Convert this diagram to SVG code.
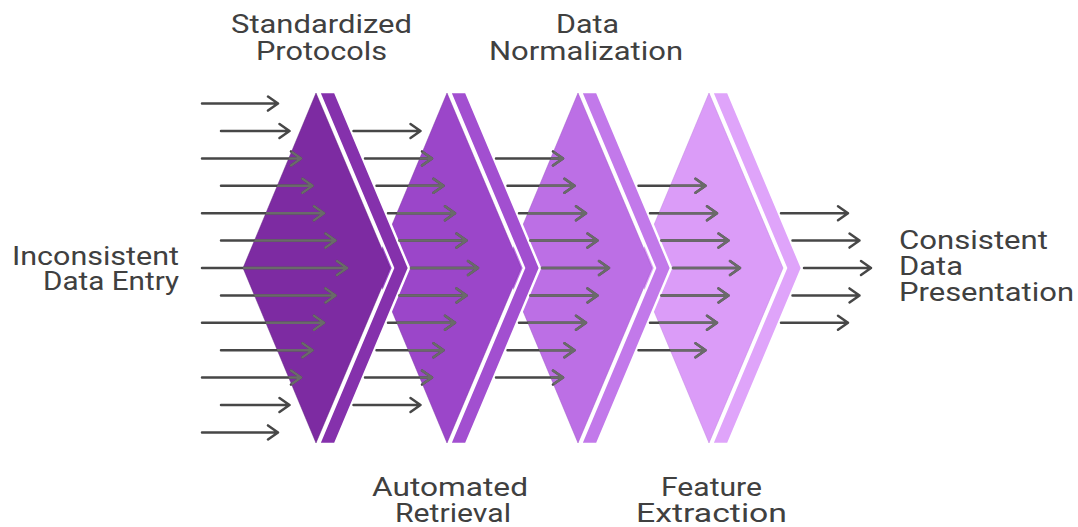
<svg xmlns="http://www.w3.org/2000/svg" xmlns:xlink="http://www.w3.org/1999/xlink" width="1078" height="527" viewBox="0 0 1078 527">
  <style>
    .label { font-family: Roboto, "Liberation Sans", Arial, sans-serif; font-size: 25px; fill: #404040; }
    .band { stroke: #ffffff; stroke-width: 2.5; stroke-linejoin: miter; }
    .main { stroke-width: 1; stroke-opacity: 0.45; }
    .s1 .main { fill: #7d2ba2; stroke: #5e1c7c; }
    .s1 .band { fill: #8531ac; }
    .s2 .main { fill: #9b46c9; stroke: #7a2ea4; }
    .s2 .band { fill: #a24fd0; }
    .s3 .main { fill: #bc6fe5; stroke: #9c52c6; }
    .s3 .band { fill: #c279ea; }
    .s4 .main { fill: #db9cf8; stroke: #bf7ee0; }
    .s4 .band { fill: #dfa4fa; }
  </style>
  <defs>
    <!-- area covered by the four stage bodies; arrows show lighter there -->
    <clipPath id="stageBodies">
      <polygon points="316,93 390,268 316,443 243,268"/>
      <polygon points="447,93 521,268 447,443 374,268"/>
      <polygon points="578,93 652,268 578,443 505,268"/>
      <polygon points="709,93 783,268 709,443 636,268"/>
    </clipPath>
  </defs>

  <rect width="1078" height="527" fill="#ffffff"/>

  <!-- stages, back to front -->
  <g id="stage-4" class="s4">
    <polygon class="main" points="709,93 783,268 709,443 636,268"/>
    <polygon class="band" points="712,92 728,92 802,268 728,444 712,444 786,268"/>
    <text class="label" x="661" y="496" textLength="101" lengthAdjust="spacingAndGlyphs">Feature</text>
    <text class="label" x="636" y="522" textLength="151" lengthAdjust="spacingAndGlyphs">Extraction</text>
  </g>
  <g id="stage-3" class="s3">
    <polygon class="main" points="578,93 652,268 578,443 505,268"/>
    <polygon class="band" points="581,92 597,92 671,268 597,444 581,444 655,268"/>
    <text class="label" x="556" y="33" textLength="63" lengthAdjust="spacingAndGlyphs">Data</text>
    <text class="label" x="489" y="60" textLength="194" lengthAdjust="spacingAndGlyphs">Normalization</text>
  </g>
  <g id="stage-2" class="s2">
    <polygon class="main" points="447,93 521,268 447,443 374,268"/>
    <polygon class="band" points="450,92 466,92 540,268 466,444 450,444 524,268"/>
    <text class="label" x="372" y="496" textLength="156" lengthAdjust="spacingAndGlyphs">Automated</text>
    <text class="label" x="395" y="522" textLength="116" lengthAdjust="spacingAndGlyphs">Retrieval</text>
  </g>
  <g id="stage-1" class="s1">
    <polygon class="main" points="316,93 390,268 316,443 243,268"/>
    <polygon class="band" points="319,92 335,92 409,268 335,444 319,444 393,268"/>
    <text class="label" x="231" y="33" textLength="181" lengthAdjust="spacingAndGlyphs">Standardized</text>
    <text class="label" x="256" y="60" textLength="131" lengthAdjust="spacingAndGlyphs">Protocols</text>
  </g>

  <g id="source">
    <text class="label" x="179" y="265" text-anchor="end" textLength="167" lengthAdjust="spacingAndGlyphs">Inconsistent</text>
    <text class="label" x="179" y="290" text-anchor="end" textLength="136" lengthAdjust="spacingAndGlyphs">Data Entry</text>
  </g>
  <g id="result">
    <text class="label" x="899" y="249" textLength="149" lengthAdjust="spacingAndGlyphs">Consistent</text>
    <text class="label" x="899" y="275" textLength="64" lengthAdjust="spacingAndGlyphs">Data</text>
    <text class="label" x="899" y="301" textLength="175" lengthAdjust="spacingAndGlyphs">Presentation</text>
  </g>

  <!-- flow arrows -->
  <g id="connectors" stroke="#474747" stroke-width="2.5" fill="none" stroke-linecap="round" stroke-linejoin="round">
    <g id="arrowPaths">
      <path d="M202 103.6H278M268 96.6L278 103.6L268 110.6"/>
      <path d="M221 131H289.5M279.5 124L289.5 131L279.5 138"/>
      <path d="M202 158.4H301M291 151.4L301 158.4L291 165.4"/>
      <path d="M221 185.8H312.5M302.5 178.8L312.5 185.8L302.5 192.8"/>
      <path d="M202 213.2H324M314 206.2L324 213.2L314 220.2"/>
      <path d="M221 240.6H335.5M325.5 233.6L335.5 240.6L325.5 247.6"/>
      <path d="M202 268H347M337 261L347 268L337 275"/>
      <path d="M221 295.4H335.5M325.5 288.4L335.5 295.4L325.5 302.4"/>
      <path d="M202 322.8H324M314 315.8L324 322.8L314 329.8"/>
      <path d="M221 350.2H312.5M302.5 343.2L312.5 350.2L302.5 357.2"/>
      <path d="M202 377.6H301M291 370.6L301 377.6L291 384.6"/>
      <path d="M221 405H289.5M279.5 398L289.5 405L279.5 412"/>
      <path d="M202 432.4H278M268 425.4L278 432.4L268 439.4"/>

      <path d="M353.5 131H420.5M410.5 124L420.5 131L410.5 138"/>
      <path d="M365 158.4H432M422 151.4L432 158.4L422 165.4"/>
      <path d="M376.5 185.8H443.5M433.5 178.8L443.5 185.8L433.5 192.8"/>
      <path d="M388 213.2H455M445 206.2L455 213.2L445 220.2"/>
      <path d="M399.5 240.6H466.5M456.5 233.6L466.5 240.6L456.5 247.6"/>
      <path d="M411 268H478M468 261L478 268L468 275"/>
      <path d="M399.5 295.4H466.5M456.5 288.4L466.5 295.4L456.5 302.4"/>
      <path d="M388 322.8H455M445 315.8L455 322.8L445 329.8"/>
      <path d="M376.5 350.2H443.5M433.5 343.2L443.5 350.2L433.5 357.2"/>
      <path d="M365 377.6H432M422 370.6L432 377.6L422 384.6"/>
      <path d="M353.5 405H420.5M410.5 398L420.5 405L410.5 412"/>

      <path d="M496 158.4H563M553 151.4L563 158.4L553 165.4"/>
      <path d="M507.5 185.8H574.5M564.5 178.8L574.5 185.8L564.5 192.8"/>
      <path d="M519 213.2H586M576 206.2L586 213.2L576 220.2"/>
      <path d="M530.5 240.6H597.5M587.5 233.6L597.5 240.6L587.5 247.6"/>
      <path d="M542 268H609M599 261L609 268L599 275"/>
      <path d="M530.5 295.4H597.5M587.5 288.4L597.5 295.4L587.5 302.4"/>
      <path d="M519 322.8H586M576 315.8L586 322.8L576 329.8"/>
      <path d="M507.5 350.2H574.5M564.5 343.2L574.5 350.2L564.5 357.2"/>
      <path d="M496 377.6H563M553 370.6L563 377.6L553 384.6"/>

      <path d="M638.5 185.8H705.5M695.5 178.8L705.5 185.8L695.5 192.8"/>
      <path d="M650 213.2H717M707 206.2L717 213.2L707 220.2"/>
      <path d="M661.5 240.6H728.5M718.5 233.6L728.5 240.6L718.5 247.6"/>
      <path d="M673 268H740M730 261L740 268L730 275"/>
      <path d="M661.5 295.4H728.5M718.5 288.4L728.5 295.4L718.5 302.4"/>
      <path d="M650 322.8H717M707 315.8L717 322.8L707 329.8"/>
      <path d="M638.5 350.2H705.5M695.5 343.2L705.5 350.2L695.5 357.2"/>

      <path d="M781 213.2H848M838 206.2L848 213.2L838 220.2"/>
      <path d="M792.5 240.6H859.5M849.5 233.6L859.5 240.6L849.5 247.6"/>
      <path d="M804 268H871M861 261L871 268L861 275"/>
      <path d="M792.5 295.4H859.5M849.5 288.4L859.5 295.4L849.5 302.4"/>
      <path d="M781 322.8H848M838 315.8L848 322.8L838 329.8"/>
    </g>
    <!-- lighter tone where arrows cross a stage body -->
    <use xlink:href="#arrowPaths" href="#arrowPaths" stroke="#6a6a6a" clip-path="url(#stageBodies)"/>
  </g>
</svg>
